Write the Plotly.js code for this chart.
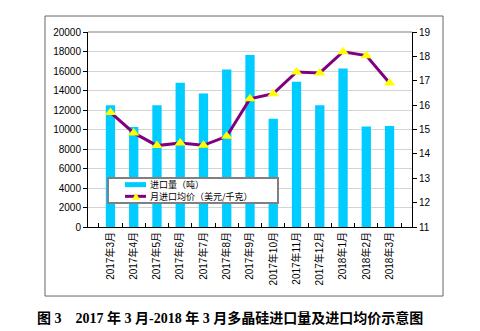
<!DOCTYPE html>
<html>
<head>
<meta charset="utf-8">
<script src="https://cdn.plot.ly/plotly-3.0.1.min.js"></script>
<style>html,body{margin:0;padding:0;background:#fff;}#chart{width:480px;height:331px;}</style>
</head>
<body>
<div id="chart"></div>
<script>
const months = ["2017年3月","2017年4月","2017年5月","2017年6月","2017年7月","2017年8月","2017年9月","2017年10月","2017年11月","2017年12月","2018年1月","2018年2月","2018年3月"];
const importVolume = [12500, 10250, 12500, 14800, 13700, 16150, 17650, 11100, 14900, 12500, 16250, 10300, 10350];
const avgPrice = [15.7, 14.86, 14.34, 14.45, 14.35, 14.72, 16.26, 16.47, 17.36, 17.32, 18.19, 18.03, 16.91];
const volumeName = "进口量（吨）";
const priceName = "月进口均价（美元/千克）";
const caption = "图 3　2017 年 3 月-2018 年 3 月多晶硅进口量及进口均价示意图";

const barColor = "#00CCFF", lineColor = "#800080", markerColor = "#FFFF00";
const tickFont = {family: "Liberation Sans, Noto Sans CJK SC, sans-serif", size: 10, color: "#000"};
const legFont = {family: "Noto Sans CJK SC, sans-serif", size: 9, color: "#000"};

const traces = [
  {
    type: "bar", x: months, y: importVolume, name: volumeName,
    marker: {color: barColor, line: {width: 0}}, yaxis: "y"
  },
  {
    type: "scatter", mode: "lines+markers", x: months, y: avgPrice, name: priceName,
    line: {color: lineColor, width: 3},
    marker: {symbol: "triangle-up", color: markerColor, size: 10, line: {width: 0}},
    yaxis: "y2"
  }
];

const layout = {
  width: 480, height: 331,
  margin: {l: 88, r: 68, t: 32, b: 104},
  paper_bgcolor: "#fff", plot_bgcolor: "#fff",
  bargap: 0.6,
  showlegend: false,
  xaxis: {
    type: "category", tickangle: -90, tickfont: tickFont,
    showline: true, linecolor: "#000", linewidth: 1,
    ticks: "inside", ticklen: 4, tickcolor: "#000", tickson: "boundaries",
    showgrid: false, fixedrange: true
  },
  yaxis: {
    range: [0, 20000], dtick: 2000, tickfont: tickFont,
    showline: true, linecolor: "#000", linewidth: 1,
    ticks: "outside", ticklen: 4, tickcolor: "#000",
    showgrid: true, gridcolor: "#d4d4d4", gridwidth: 1,
    zeroline: false, tickformat: "d"
  },
  yaxis2: {
    range: [11, 19], dtick: 1, overlaying: "y", side: "right", tickfont: tickFont,
    showline: true, linecolor: "#000", linewidth: 1,
    ticks: "outside", ticklen: 4, tickcolor: "#000",
    showgrid: false, zeroline: false
  },
  shapes: [
    {type: "line", xref: "paper", yref: "paper", x0: 0, x1: 1, y0: 1, y1: 1, line: {color: "#808080", width: 1}},
    {type: "rect", xref: "paper", yref: "paper", x0: -0.1327, x1: 1.0957, y0: -0.354, y1: 1.082, line: {color: "#666", width: 1}, fillcolor: "rgba(0,0,0,0)"},
    // legend box
    {type: "rect", xref: "paper", yref: "paper", x0: 0.0617, x1: 0.5864, y0: 0.1231, y1: 0.2513, line: {color: "#808080", width: 2}, fillcolor: "#fff"},
    {type: "line", xref: "paper", yref: "paper", x0: 0.1142, x1: 0.179, y0: 0.2172, y1: 0.2172, line: {color: barColor, width: 5}},
    {type: "line", xref: "paper", yref: "paper", x0: 0.1142, x1: 0.179, y0: 0.1572, y1: 0.1572, line: {color: lineColor, width: 3}},
    {type: "path", xref: "paper", yref: "paper", path: "M0.1358,0.1392 L0.1605,0.1392 L0.1481,0.1751 Z", fillcolor: markerColor, line: {width: 0}}
  ],
  annotations: [
    {text: volumeName + "<br>" + priceName, xref: "paper", yref: "paper", x: 0.1852, y: 0.1872, xanchor: "left", yanchor: "middle", align: "left", showarrow: false, font: legFont},
    {text: caption, xref: "paper", yref: "paper", x: 0.438, y: -0.465, xanchor: "center", yanchor: "middle",
     showarrow: false, font: {family: "Liberation Serif, Noto Sans CJK SC, serif", size: 14, color: "#000", weight: "bold"}}
  ]
};

Plotly.newPlot("chart", traces, layout, {displayModeBar: false, staticPlot: true});
</script>
</body>
</html>
